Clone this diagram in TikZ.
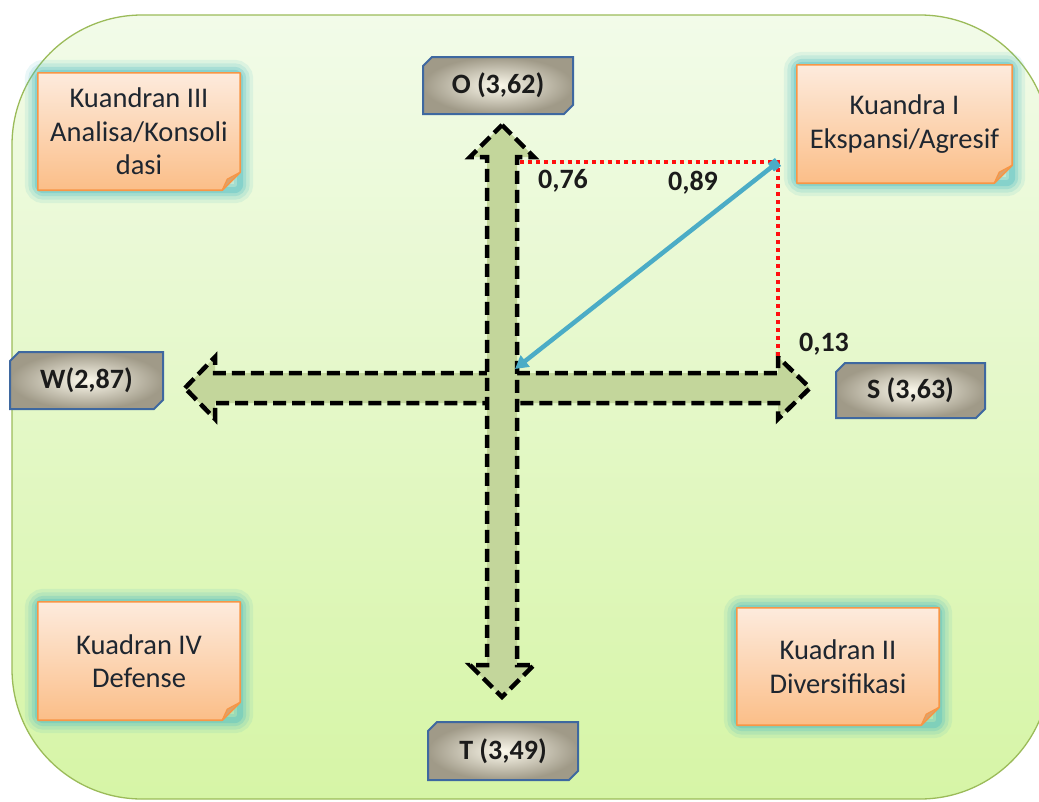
\documentclass[tikz,border=0pt]{standalone}
\usepackage{fontspec}
\setmainfont{Carlito}
\usetikzlibrary{arrows.meta,shapes.misc,calc}
\definecolor{bgT}{HTML}{F2FBE9}
\definecolor{bgB}{HTML}{D6F5A6}
\definecolor{bgL}{HTML}{9BBB59}
\definecolor{arrF}{HTML}{C3D69B}
\definecolor{noteT}{HTML}{FDEBDD}
\definecolor{noteB}{HTML}{FBBE88}
\definecolor{noteO}{HTML}{F79646}
\definecolor{noteFold}{HTML}{DCA26C}
\definecolor{glowC}{HTML}{4FBCC4}
\definecolor{lblIn}{HTML}{FCF9EC}
\definecolor{lblOut}{HTML}{A09A88}
\definecolor{lblLine}{HTML}{3E68A0}
\definecolor{blueL}{HTML}{4BACC6}
\definecolor{redD}{HTML}{FF1010}
\definecolor{txt}{HTML}{1B1B1B}
\definecolor{qtxt}{HTML}{1E2630}
\pgfdeclarelayer{back}
\pgfdeclarelayer{mid}
\pgfsetlayers{back,mid,main}
\newcommand\lblfont{\fontsize{28}{32}\selectfont\bfseries}
\newcommand\quadfont{\fontsize{28.5}{33.5}\selectfont}
\newcommand\numfont{\fontsize{28}{32}\selectfont\bfseries}
\newcommand\drawnote[1]{%
\begin{pgfonlayer}{mid}
\foreach \w/\o in {26/0.12,19/0.16,12/0.24,6/0.35}{%
  \draw[glowC, line width=\w pt, opacity=\o, rounded corners=6pt] (#1.north west) rectangle (#1.south east);}
\path[top color=noteT, bottom color=noteB, draw=noteO, line width=1.6pt, line join=round]
  (#1.north west) -- (#1.north east) -- ([yshift=18pt]#1.south east) -- ([xshift=-18pt]#1.south east) -- (#1.south west) -- cycle;
\filldraw[fill=noteFold, draw=noteO, line width=1.2pt, line join=round]
  ([yshift=18pt]#1.south east) -- ([xshift=-18pt]#1.south east) -- ([xshift=-13pt,yshift=11pt]#1.south east) -- cycle;
\end{pgfonlayer}}
\tikzset{
  lbl/.style={shape=chamfered rectangle, chamfered rectangle corners={north west,south east},
    chamfered rectangle xsep=4.5pt, chamfered rectangle ysep=4.5pt,
    minimum width=150pt, minimum height=57pt, inner sep=0pt,
    draw=lblLine, line width=2pt, inner color=lblIn, outer color=lblOut,
    font=\lblfont, text=txt},
  quad/.style={inner sep=0pt, align=center, font=\quadfont, text=qtxt},
  num/.style={inner sep=0pt, font=\numfont, text=txt},
  crossarrow/.style={fill=arrF, draw=black, line width=4.5pt, dash pattern=on 13pt off 6pt, line join=miter},
  reddot/.style={draw=redD, line width=3.5pt, dash pattern=on 4pt off 4pt},
  blueline/.style={draw=blueL, line width=4.5pt, {Square[length=9pt,width=10pt]}-{Triangle[length=13pt,width=14pt]}}
}
\begin{document}
\begin{tikzpicture}[x=1pt,y=-1pt]
\useasboundingbox (0,0) rectangle (1039,801);
\begin{pgfonlayer}{back}
\path[top color=bgT, bottom color=bgB, draw=bgL, line width=1.3pt, rounded corners=130pt]
  (12,15) rectangle (1050,799);
\end{pgfonlayer}

% cross arrows
\path[crossarrow] (185,388) -- (215,357) -- (215,373) -- (778,373) -- (778,357) -- (810,388)
  -- (778,419) -- (778,403) -- (215,403) -- (215,419) -- cycle;
\path[crossarrow] (502,125) -- (534,157) -- (517,157) -- (517,665) -- (534,665) -- (502,697)
  -- (470,665) -- (487,665) -- (487,157) -- (470,157) -- cycle;

% axis labels
\node[lbl] (O) at (498,85.5) {O (3,62)};
\node[lbl, minimum width=153pt] (W) at (86.5,380.5) {W(2,87)};
\node[lbl, minimum width=149pt, minimum height=55pt] (S) at (910.5,390.5) {S (3,63)};
\node[lbl, minimum height=58pt] (T) at (503,751) {T (3,49)};

% quadrant notes
\node[quad, minimum width=202pt, minimum height=117pt] (q3) at (139,131.5) {Kuandran III\\Analisa/Konsoli\\dasi};
\node[quad, minimum width=215pt, minimum height=118pt] (q1) at (904.5,124) {Kuandra I\\Ekspansi/Agresif};
\node[quad, minimum width=202pt, minimum height=118pt] (q4) at (139,661) {Kuadran IV\\Defense};
\node[quad, minimum width=202pt, minimum height=117pt] (q2) at (838,666.5) {Kuadran II\\Diversifikasi};
\drawnote{q3}\drawnote{q1}\drawnote{q4}\drawnote{q2}

% point and projections
\coordinate (P) at (778,162);
\coordinate (Oc) at (515,369);
\coordinate (Ph) at (520,162);
\coordinate (Pv) at (778,356);
\draw[reddot] (Ph) -- (P) -- (Pv);
\draw[blueline] (P) -- (Oc);

\node[num] (n76) at (563,181) {0,76};
\node[num] (n89) at (693,183) {0,89};
\node[num] (n13) at (824,344) {0,13};
\end{tikzpicture}
\end{document}
